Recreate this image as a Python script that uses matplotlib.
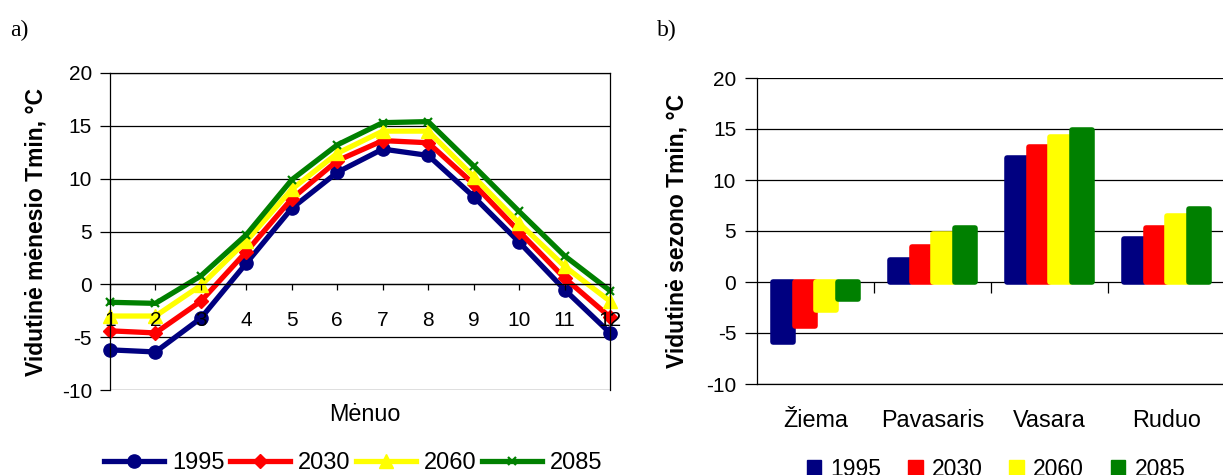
import matplotlib
matplotlib.use("Agg")
import matplotlib.pyplot as plt
from matplotlib.lines import Line2D
from matplotlib.patches import Patch
import numpy as np

# ---- data ----
months = list(range(1, 13))
tmin_1995 = [-6.2, -6.4, -3.2, 2.0, 7.2, 10.6, 12.8, 12.2, 8.3, 4.0, -0.5, -4.6]
tmin_2030 = [-4.4, -4.6, -1.6, 3.1, 8.1, 11.7, 13.6, 13.4, 9.5, 5.0, 0.6, -3.1]
tmin_2060 = [-3.0, -3.0, -0.1, 4.1, 9.0, 12.4, 14.5, 14.5, 10.2, 5.8, 1.7, -1.6]
tmin_2085 = [-1.7, -1.8, 0.8, 4.7, 9.9, 13.2, 15.3, 15.4, 11.2, 6.9, 2.7, -0.6]

seasons = ["Žiema", "Pavasaris", "Vasara", "Ruduo"]
season_1995 = [-5.9, 2.2, 12.2, 4.2]
season_2030 = [-4.3, 3.4, 13.2, 5.3]
season_2060 = [-2.7, 4.7, 14.2, 6.5]
season_2085 = [-1.7, 5.3, 14.9, 7.2]

years = ["1995", "2030", "2060", "2085"]
colors = ["#000080", "#FF0000", "#FFFF00", "#008000"]
markers = ["o", "D", "^", "x"]
msizes = [9.5, 7, 9.5, 5.5]
yticks = [-10, -5, 0, 5, 10, 15, 20]

plt.rcParams["font.family"] = ["Liberation Sans", "DejaVu Sans"]
plt.rcParams["axes.unicode_minus"] = False
FS = 15        # tick labels
CFS = 16.8     # axis / category labels
GFS = 17       # legend entries
LFS = 16.5     # bold y labels

fig = plt.figure(figsize=(12.23, 4.75), dpi=100)
W, H = 1223, 475

def axes_px(x0, x1, ytop, ybot):
    return fig.add_axes([x0 / W, (H - ybot) / H, (x1 - x0) / W, (ybot - ytop) / H])

# ---- a) monthly lines ----
ax1 = axes_px(110, 610, 73, 390)
for yv in yticks:
    ax1.axhline(yv, color="black", lw=0.9, zorder=1)
monthly = [tmin_1995, tmin_2030, tmin_2060, tmin_2085]
for vals, c, m, ms in zip(monthly, colors, markers, msizes):
    ax1.plot(months, vals, color=c, lw=3.8, marker=m, markersize=ms,
             markeredgewidth=1.6 if m == "x" else 1, markeredgecolor=c,
             markerfacecolor=c, clip_on=False, zorder=2)
ax1.set_axisbelow(False)  # tick labels sit on top of the lines
ax1.set_xlim(1, 12)
ax1.set_ylim(-10, 20)
ax1.set_yticks(yticks)
ax1.set_xticks(months)
ax1.spines["bottom"].set_position(("data", 0))
for s in ax1.spines.values():
    s.set_color("black")
    s.set_linewidth(0.9)
ax1.tick_params(axis="y", labelsize=FS, length=7, width=0.9, pad=6)
ax1.tick_params(axis="x", labelsize=FS, length=4, width=0.9, pad=15, direction="out")
ax1.set_ylabel("Vidutinė mėnesio Tmin, °C", fontsize=LFS, fontweight="bold")
ax1.yaxis.set_label_coords(-0.124, 0.5)
ax1.set_xlabel("Mėnuo", fontsize=CFS)
ax1.xaxis.set_label_coords(0.51, -0.04)
ax1.xaxis.label.set_verticalalignment("top")

handles1 = [Line2D([], [], color=c, lw=3.8, marker=m, markersize=ms,
                   markeredgewidth=1.6 if m == "x" else 1,
                   markerfacecolor=c, markeredgecolor=c)
            for c, m, ms in zip(colors, markers, msizes)]
fig.legend(handles1, years, loc="center", bbox_to_anchor=(353 / W, 1 - 463 / H),
           ncol=4, frameon=False, fontsize=GFS, handlelength=2.55,
           handletextpad=0.34, columnspacing=0.22, borderpad=0)

# ---- b) seasonal bars ----
ax2 = axes_px(757, 1225, 78, 384)
x = np.arange(len(seasons))
step, width = 0.184, 0.172
seasonal = [season_1995, season_2030, season_2060, season_2085]
for i, (vals, c) in enumerate(zip(seasonal, colors)):
    ax2.bar(x + (i - 1.5) * step, vals, width=width, color=c, edgecolor=c,
            linewidth=4, joinstyle="round", zorder=3)
ax2.set_xlim(-0.5, 3.5)
ax2.set_ylim(-10, 20)
ax2.set_yticks(yticks)
ax2.set_xticks(x, seasons)
ax2.grid(axis="y", color="black", lw=0.9)
ax2.set_axisbelow(True)
ax2.spines["top"].set_visible(False)
ax2.spines["right"].set_visible(False)
for s in ("left", "bottom"):
    ax2.spines[s].set_color("black")
    ax2.spines[s].set_linewidth(0.9)
ax2.tick_params(axis="y", labelsize=FS, length=9, width=0.9, pad=6)
ax2.tick_params(axis="x", labelsize=CFS, length=0, pad=18)
ax2.set_ylabel("Vidutinė sezono Tmin, °C", fontsize=LFS, fontweight="bold")
ax2.yaxis.set_label_coords(-0.147, 0.5)

# category separators on the zero line
sec = ax2.secondary_xaxis(1 / 3)
sec.set_xticks([0.5, 1.5, 2.5])
sec.tick_params(axis="x", length=8, width=0.9, labelbottom=False, labeltop=False,
                direction="out")
sec.spines["bottom"].set_visible(False)
sec.spines["top"].set_visible(False)

handles2 = [Patch(facecolor=c, edgecolor=c) for c in colors]
fig.legend(handles2, years, loc="center", bbox_to_anchor=(996 / W, 1 - 469 / H),
           ncol=4, frameon=False, fontsize=16.5, handlelength=0.65, handleheight=0.65,
           handletextpad=0.4, columnspacing=1.15, borderpad=0)

# panel letters
fig.text(10 / W, 1 - 30 / H, "a)", fontsize=17, family=["Liberation Serif"], va="center")
fig.text(657 / W, 1 - 30 / H, "b)", fontsize=17, family=["Liberation Serif"], va="center")

fig.savefig("out.png", dpi=100)
